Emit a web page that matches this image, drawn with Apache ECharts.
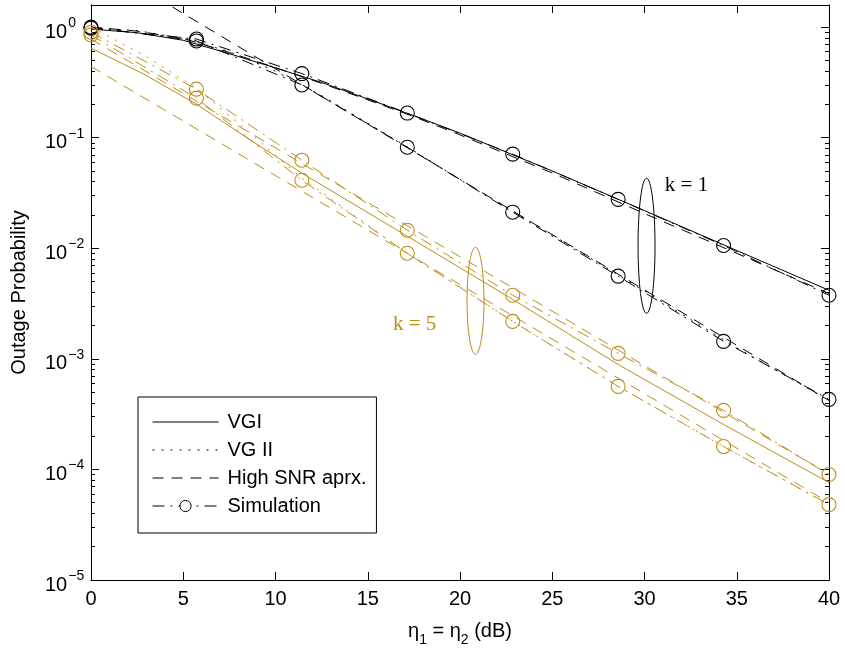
<!DOCTYPE html>
<html><head><meta charset="utf-8">
<script src="https://cdn.jsdelivr.net/npm/echarts@6/dist/echarts.min.js"></script>
<style>html,body{margin:0;padding:0;background:#fff}#c{width:845px;height:651px}</style>
</head><body><div id="c"></div>
<script>
// ---------- data ----------
const X_SIM = [0, 5.714, 11.429, 17.143, 22.857, 28.571, 34.286, 40];
const X_K1 = [0, 2.5, 5, 7.5, 10, 12.5, 15, 17.5, 20, 25, 30, 35, 40];
const VG1_K1 = [0.96, 0.89, 0.76, 0.575, 0.427, 0.316, 0.224, 0.158, 0.11, 0.050, 0.0219, 0.00955, 0.00417];
const VG2_K1 = [0.99, 0.93, 0.79, 0.60, 0.40, 0.24, 0.135, 0.076, 0.042, 0.0132, 0.0041, 0.00126, 0.00042];
const HS1_K1 = [1.0, 0.92, 0.79, 0.59, 0.43, 0.31, 0.22, 0.155, 0.106, 0.048, 0.0206, 0.0090, 0.0039];
const HS2_K1_X = [0, 40];
const HS2_K1 = [4.2, 0.00042];
const SIM1_K1 = [0.98, 0.78, 0.38, 0.167, 0.071, 0.0277, 0.0106, 0.00376];
const SIM2_K1 = [1.0, 0.75, 0.30, 0.082, 0.0212, 0.0056, 0.00144, 0.00043];

const X_K5 = [0, 2.857, 5.714, 8.571, 11.429, 17.143, 22.857, 28.571, 34.286, 40];
const VG1_K5 = [0.646, 0.376, 0.201, 0.0968, 0.0478, 0.01285, 0.00345, 0.00089, 0.000255, 7.6e-5];
const VG2_K5 = [1.0, 0.558, 0.281, 0.112, 0.043, 0.0090, 0.00218, 0.000564, 0.000161, 4.8e-5];
const HS_K5_X = [0, 40];
const HS1_K5 = [0.78, 9.0e-5];
const HS2_K5 = [0.44, 5.0e-5];
const SIM1_K5 = [0.90, 0.275, 0.0626, 0.01455, 0.00376, 0.00112, 0.000342, 9.0e-5];
const SIM2_K5 = [0.85, 0.228, 0.0412, 0.00901, 0.00218, 0.000564, 0.000161, 4.8e-5];

const X_TICKS = [0, 5, 10, 15, 20, 25, 30, 35, 40];
const Y_DECADES = [-5, -4, -3, -2, -1, 0];
const LEGEND_NAMES = ['VGI', 'VG II', 'High SNR aprx.', 'Simulation'];

// annotations (data coords)
const K1_ELL = {x0: 29.65, x1: 30.57, y0: 0.043, y1: 0.00258};
const K5_ELL = {x0: 20.38, x1: 21.30, y0: 0.0102, y1: 0.0011};
const K1_TEXT = {x: 31.1, y: 0.0372, text: 'k = 1'};
const K5_TEXT = {x: 16.37, y: 0.00205, text: 'k = 5'};

// ---------- styling ----------
const BLACK = '#000000';
const GOLD = '#BF8C19';
const FONT = '"Liberation Sans", Arial, sans-serif';
const SERIF = '"Liberation Serif", "Times New Roman", serif';
const DASH = [11, 8];
const DOT = [2, 7];
const DASHDOT = [12, 6, 2, 6];

const lg = v => Math.log10(v);
const pairs = (xs, ys) => xs.map((x, i) => [x, lg(ys[i])]);

function line(name, xs, ys, color, type, marker) {
  return {
    name, type: 'line', data: pairs(xs, ys),
    xAxisIndex: 0, yAxisIndex: 0,
    symbol: 'circle',
    symbolSize: 14, showSymbol: !!marker,
    lineStyle: {color, width: 1, type},
    itemStyle: {color: 'rgba(0,0,0,0)', borderColor: color, borderWidth: 1.1},
    emphasis: {disabled: true}, silent: true, animation: false, clip: true
  };
}

const series = [
  line('VGI', X_K1, VG1_K1, BLACK, 'solid'),
  line('VG II', X_K1, VG2_K1, BLACK, DOT),
  line('High SNR aprx.', X_K1, HS1_K1, BLACK, DASH),
  line('Simulation', X_SIM, SIM1_K1, BLACK, DASHDOT, true),
  line('High SNR aprx.', HS2_K1_X, HS2_K1, BLACK, DASH),
  line('Simulation', X_SIM, SIM2_K1, BLACK, DASHDOT, true),
  line('VGI', X_K5, VG1_K5, GOLD, 'solid'),
  line('VG II', X_K5, VG2_K5, GOLD, DOT),
  line('High SNR aprx.', HS_K5_X, HS1_K5, GOLD, DASH),
  line('High SNR aprx.', HS_K5_X, HS2_K5, GOLD, DASH),
  line('Simulation', X_SIM, SIM1_K5, GOLD, DASHDOT, true),
  line('Simulation', X_SIM, SIM2_K5, GOLD, DASHDOT, true)
];

const minorTicks = [];
Y_DECADES.forEach(d => { if (d < 0) for (let k = 2; k <= 9; k++) minorTicks.push(d + Math.log10(k)); });

const YMIN = -5, YMAX = 0.2;
const axLine = {show: true, onZero: false, lineStyle: {color: BLACK, width: 1}};
function yAx(pos, ticks, len, labels) {
  return {
    type: 'value', min: YMIN, max: YMAX, position: pos,
    axisLine: axLine,
    axisTick: {show: true, inside: true, length: len, customValues: ticks, lineStyle: {color: BLACK, width: 1}},
    axisLabel: labels ? {
      show: true, customValues: Y_DECADES, align: 'left', margin: 46,
      formatter: v => '{b|10}{s|' + (Math.round(v) === 0 ? '0' : '\u2212' + Math.round(-v)) + '}',
      rich: {
        b: {fontSize: 20, fontFamily: FONT, color: BLACK, lineHeight: 22, padding: [6, 0, 0, 0], verticalAlign: 'top'},
        s: {fontSize: 14, fontFamily: FONT, color: BLACK, lineHeight: 15, verticalAlign: 'top', padding: [0, 0, 0, 1]}
      }
    } : {show: false},
    splitLine: {show: false}
  };
}

const yAxes = [
  Object.assign(yAx('left', Y_DECADES, 8, true), {
    name: 'Outage Probability', nameLocation: 'middle', nameGap: 62,
    nameTextStyle: {fontSize: 20, fontFamily: FONT, color: BLACK}
  }),
  yAx('left', minorTicks, 4, false),
  yAx('right', Y_DECADES, 8, false),
  yAx('right', minorTicks, 4, false)
];

const xAxes = [
  {
    type: 'value', min: 0, max: 40, interval: 5, position: 'bottom',
    axisLine: axLine,
    axisTick: {show: true, inside: true, length: 8, lineStyle: {color: BLACK, width: 1}},
    axisLabel: {show: true, fontSize: 20, fontFamily: FONT, color: BLACK, margin: 9,
      customValues: X_TICKS},
    splitLine: {show: false},
    name: '{n|\u03b7}{u|1}{n| = \u03b7}{u|2}{n| (dB)}',
    nameLocation: 'middle', nameGap: 41,
    nameTextStyle: {
      rich: {
        n: {fontSize: 20, fontFamily: FONT, color: BLACK, lineHeight: 22, verticalAlign: 'top'},
        u: {fontSize: 14, fontFamily: FONT, color: BLACK, lineHeight: 15, verticalAlign: 'top', padding: [12, 0, 0, 0]}
      }
    }
  },
  {
    type: 'value', min: 0, max: 40, interval: 5, position: 'top',
    axisLine: axLine,
    axisTick: {show: true, inside: true, length: 8, lineStyle: {color: BLACK, width: 1}},
    axisLabel: {show: false}, splitLine: {show: false}
  }
];

const hideSym = {color: 'rgba(0,0,0,0)', borderColor: 'rgba(0,0,0,0)', borderWidth: 0};
const legendData = LEGEND_NAMES.map(n => n === 'Simulation'
  ? {name: n, itemStyle: {color: '#ffffff', borderColor: BLACK, borderWidth: 1}}
  : {name: n, itemStyle: hideSym});

const chart = echarts.init(document.getElementById('c'), null, {renderer: 'canvas'});
chart.setOption({
  animation: false,
  backgroundColor: '#ffffff',
  grid: {left: 91, top: 5, right: 16, bottom: 71, containLabel: false, outerBoundsMode: 'none'},
  xAxis: xAxes,
  yAxis: yAxes,
  legend: {
    data: legendData, orient: 'vertical', left: 138, top: 397,
    itemWidth: 66, itemHeight: 14, itemGap: 8,
    padding: [15, 10, 17, 14],
    borderColor: BLACK, borderWidth: 1, backgroundColor: '#ffffff',
    lineStyle: {width: 1},
    textStyle: {fontSize: 20, fontFamily: FONT, color: BLACK, padding: [0, 0, 0, 4]},
    selectedMode: false
  },
  series
});

function px(x, v) { return chart.convertToPixel({xAxisIndex: 0, yAxisIndex: 0}, [x, lg(v)]); }
function ellipse(e, color) {
  const a = px(e.x0, e.y0), b = px(e.x1, e.y1);
  return {type: 'ellipse', silent: true, z: 100,
    shape: {cx: (a[0] + b[0]) / 2, cy: (a[1] + b[1]) / 2, rx: Math.abs(b[0] - a[0]) / 2, ry: Math.abs(b[1] - a[1]) / 2},
    style: {fill: null, stroke: color, lineWidth: 1}};
}
function label(t, color) {
  const p = px(t.x, t.y);
  return {type: 'text', silent: true, z: 100, x: p[0], y: p[1],
    style: {text: t.text, fill: color, font: '21px ' + SERIF, textAlign: 'left', textVerticalAlign: 'middle'}};
}
chart.setOption({
  graphic: [ellipse(K1_ELL, BLACK), ellipse(K5_ELL, GOLD), label(K1_TEXT, BLACK), label(K5_TEXT, GOLD)]
});
</script></body></html>
